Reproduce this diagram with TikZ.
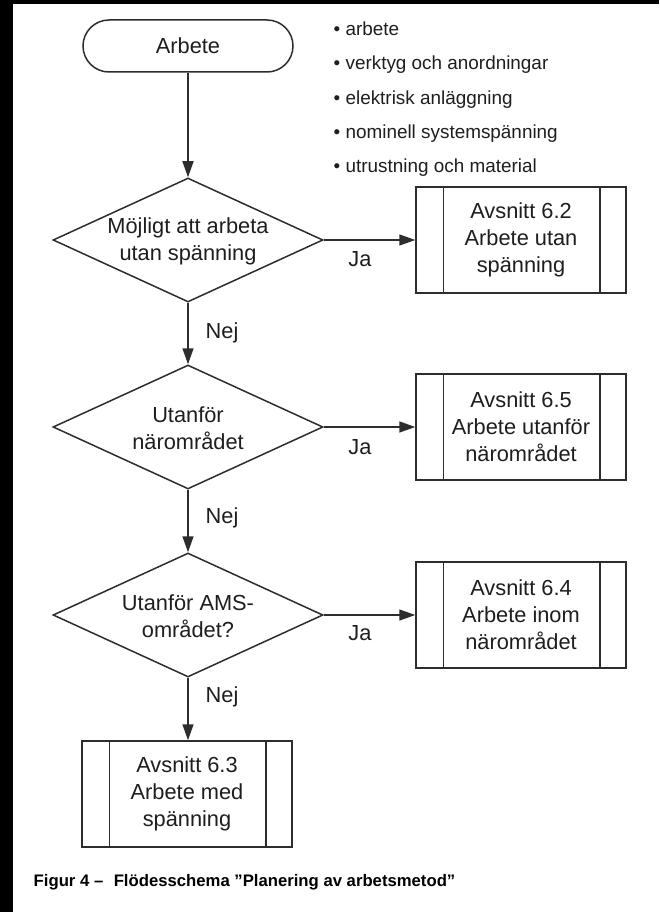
\documentclass[tikz,border=0pt]{standalone}
\usepackage{fontspec}
\setmainfont{Liberation Sans}
\usetikzlibrary{shapes.geometric,arrows.meta}
\definecolor{ln}{RGB}{45,45,45}
\definecolor{tx}{RGB}{30,30,30}
\begin{document}
\begin{tikzpicture}[x=1pt,y=-1pt,
  every node/.style={text=tx,font=\fontsize{21.8}{27}\selectfont},
  conn/.style={draw=ln,line width=1.5pt,-{Triangle[length=16pt,width=11pt]}},
  term/.style={draw=ln,line width=1.5pt,rectangle,rounded corners=26pt,minimum width=210pt,minimum height=52pt,inner sep=0pt},
  decision/.style={draw=ln,line width=1.5pt,diamond,aspect=2.18,minimum width=270pt,minimum height=124pt,inner sep=0pt},
  dtext/.style={align=center,inner sep=0pt},
  procbox/.style={draw=ln,line width=1.5pt,rectangle,minimum width=210pt,minimum height=106pt,inner sep=0pt,align=center},
  lbl/.style={inner sep=0pt},
  bul/.style={anchor=west,inner sep=0pt,font=\fontsize{18.9}{23}\selectfont},
  captext/.style={anchor=west,inner sep=0pt,text=black,font=\bfseries\fontsize{16.7}{20}\selectfont},
  bar/.style={draw=ln,line width=1.5pt},
]
\fill[white] (0,0) rectangle (659,912);
\useasboundingbox (0,0) rectangle (659,912);
\fill[black] (0,0) rectangle (13,912);
\fill[black] (0,0) rectangle (659,4);

% start
\node[term] (s) at (188,46) {Arbete};

% bullet list
\node[bul] (l1) at (333.5,29) {\textbullet\ arbete};
\node[bul] (l2) at (333.5,65) {\textbullet\ verktyg och anordningar};
\node[bul] (l3) at (333.5,100) {\textbullet\ elektrisk anläggning};
\node[bul] (l4) at (333.5,134) {\textbullet\ nominell systemspänning};
\node[bul] (l5) at (333.5,168) {\textbullet\ utrustning och material};

% decisions
\node[decision] (d1) at (188,240) {};
\node[dtext] (d1t) at (188,241) {Möjligt att arbeta\\utan spänning};
\node[decision] (d2) at (188,427) {};
\node[dtext] (d2t) at (188,428) {Utanför\\närområdet};
\node[decision] (d3) at (188,615) {};
\node[dtext] (d3t) at (188,616) {Utanför AMS-\\området?};

% process boxes
\node[procbox] (b1) at (521,240) {Avsnitt 6.2\\Arbete utan\\spänning};
\node[procbox] (b2) at (521,427) {Avsnitt 6.5\\Arbete utanför\\närområdet};
\node[procbox] (b3) at (521,615) {Avsnitt 6.4\\Arbete inom\\närområdet};
\node[procbox] (b4) at (187,794) {Avsnitt 6.3\\Arbete med\\spänning};
\foreach \b in {b1,b2,b3,b4}{
  \draw[bar] ([xshift=28pt]\b.north west) -- ([xshift=28pt]\b.south west);
  \draw[bar] ([xshift=-27pt]\b.north east) -- ([xshift=-27pt]\b.south east);
}

% connectors
\draw[conn] (s) -- (d1);
\draw[conn] (d1) -- (d2);
\draw[conn] (d2) -- (d3);
\draw[conn] (d3.south) -- (d3.south |- b4.north);
\draw[conn] (d1.east) -- (b1.west);
\draw[conn] (d2.east) -- (b2.west);
\draw[conn] (d3.east) -- (b3.west);

% labels
\node[lbl] (n1) at (222,333) {Nej};
\node[lbl] (n2) at (222,518) {Nej};
\node[lbl] (n3) at (222,697) {Nej};
\node[lbl] (j1) at (360,259) {Ja};
\node[lbl] (j2) at (360,447) {Ja};
\node[lbl] (j3) at (360,633) {Ja};

% caption
\node[captext] (c) at (33.5,882) {Figur 4 –\hspace{10.5pt}Flödesschema ”Planering av arbetsmetod”};
\end{tikzpicture}
\end{document}
